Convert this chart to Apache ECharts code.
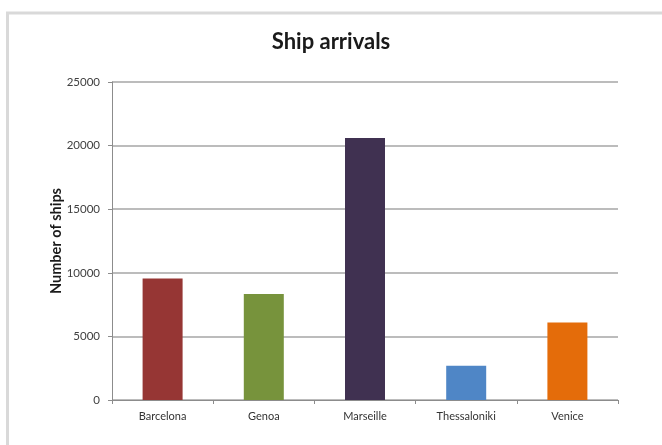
<!DOCTYPE html>
<html>
<head>
<meta charset="utf-8">
<script src="https://cdn.jsdelivr.net/npm/echarts@6/dist/echarts.min.js"></script>
<style>
html,body{margin:0;padding:0;background:#fff;}
#chart{width:662px;height:445px;}
</style>
</head>
<body>
<div id="chart"></div>
<script>
const categories = ["Barcelona", "Genoa", "Marseille", "Thessaloniki", "Venice"];
const shipCounts = [9550, 8330, 20600, 2700, 6100];
const barColors = ["#963634", "#77933C", "#403151", "#4F86C6", "#E46C0A"];
const yTicks = [0, 5000, 10000, 15000, 20000, 25000];

const chart = echarts.init(document.getElementById('chart'), null, {renderer: 'canvas'});
chart.setOption({
  backgroundColor: '#ffffff',
  animation: false,
  graphic: [{
    type: 'rect', z: -10, silent: true,
    shape: {x: 7.5, y: 13, width: 720, height: 500},
    style: {fill: '#ffffff', stroke: '#d9d9d9', lineWidth: 3}
  }],
  title: {
    text: 'Ship arrivals',
    left: 'center', top: 26,
    textStyle: {fontFamily: 'Lato', fontWeight: 'bold', fontSize: 22, color: '#1a1a1a'}
  },
  grid: {left: 112, right: 44, top: 82, bottom: 45, containLabel: false},
  xAxis: {
    type: 'category',
    data: categories,
    boundaryGap: true,
    axisLine: {lineStyle: {color: '#8c8c8c', width: 1}},
    axisTick: {show: true, alignWithLabel: false, length: 4, lineStyle: {color: '#8c8c8c'}},
    axisLabel: {fontFamily: 'Lato', fontSize: 11, color: '#333', margin: 11}
  },
  yAxis: {
    type: 'value',
    min: yTicks[0], max: yTicks[yTicks.length - 1], interval: 5000,
    name: 'Number of ships',
    nameLocation: 'middle',
    nameGap: 48,
    nameMoveOverlap: false,
    nameTextStyle: {fontFamily: 'Lato', fontWeight: 'bold', fontSize: 14.5, color: '#1a1a1a'},
    axisLine: {show: true, lineStyle: {color: '#8c8c8c', width: 1}},
    axisTick: {show: true, length: 4, lineStyle: {color: '#8c8c8c'}},
    axisLabel: {fontFamily: 'Lato', fontSize: 11.5, color: '#404040', margin: 12, formatter: v => String(v)},
    splitLine: {show: true, lineStyle: {color: '#a6a6a6', width: 1.5}}
  },
  series: [{
    type: 'bar',
    data: shipCounts.map((v, i) => ({value: v, itemStyle: {color: barColors[i]}})),
    barWidth: 40
  }]
});
</script>
</body>
</html>
